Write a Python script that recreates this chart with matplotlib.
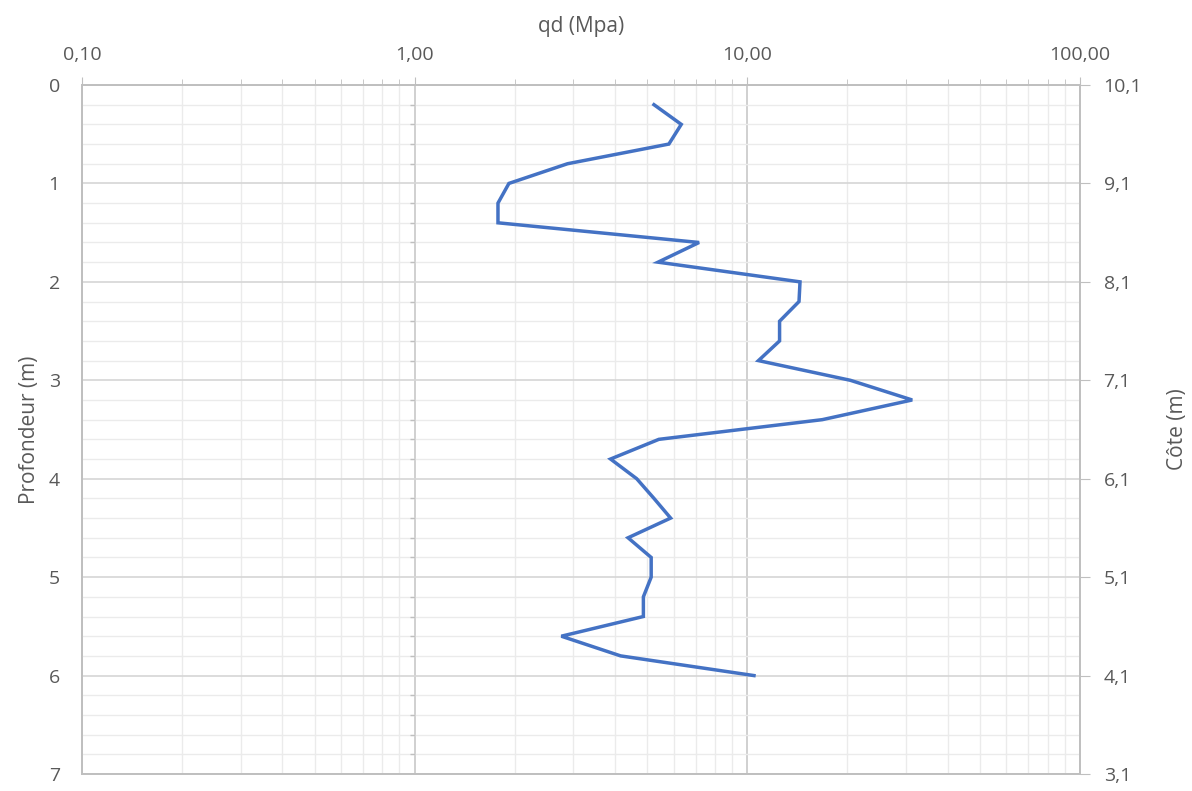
import matplotlib
matplotlib.use("Agg")
import matplotlib.pyplot as plt
from matplotlib.ticker import FixedLocator, FuncFormatter, NullFormatter, NullLocator
import numpy as np

# Data
depth = [0.2, 0.4, 0.6, 0.8, 1.0, 1.2, 1.4, 1.6, 1.8, 2.0,
         2.2, 2.4, 2.6, 2.8, 3.0, 3.2, 3.4, 3.6, 3.8, 4.0,
         4.2, 4.4, 4.6, 4.8, 5.0, 5.2, 5.4, 5.6, 5.8, 6.0]
qd = [5.24, 6.33, 5.81, 2.88, 1.92, 1.78, 1.78, 7.16, 5.39, 14.4,
      14.3, 12.5, 12.5, 10.8, 20.4, 31.3, 16.8, 5.42, 3.88, 4.65,
      5.24, 5.88, 4.38, 5.14, 5.14, 4.87, 4.87, 2.76, 4.16, 10.47]
x_major = [0.1, 1, 10, 100]
x_labels = ["0,10", "1,00", "10,00", "100,00"]
depth_ticks = [0, 1, 2, 3, 4, 5, 6, 7]
cote_ticks = [3.1, 4.1, 5.1, 6.1, 7.1, 8.1, 9.1, 10.1]
cote_top = 10.1

plt.rcParams['font.family'] = ['Open Sans', 'DejaVu Sans']
txt = '#595959'
fs = 14
fig = plt.figure(figsize=(11.92, 7.91), dpi=100)
ax = fig.add_axes([82/1192, 1-774/791, (1080-82)/1192, (774-85)/791])

ax.set_xscale('log')
ax.set_xlim(0.1, 100)
ax.set_ylim(7, 0)

minor_x = [m * d for d in [0.1, 1, 10] for m in range(2, 10)]
ax.xaxis.set_major_locator(FixedLocator(x_major))
ax.xaxis.set_minor_locator(FixedLocator(minor_x))
ax.xaxis.set_major_formatter(FuncFormatter(lambda v, p: x_labels[x_major.index(v)] if v in x_major else ""))
ax.xaxis.set_minor_formatter(NullFormatter())
ax.xaxis.tick_top()
ax.xaxis.set_label_position('top')

minor_y = [i * 0.2 for i in range(36)]
ax.yaxis.set_major_locator(FixedLocator(depth_ticks))
ax.yaxis.set_minor_locator(FixedLocator(minor_y))

ax.grid(True, which='major', axis='x', color='#c8c8c8', lw=1.2)
ax.grid(True, which='minor', axis='x', color='#ebebeb', lw=1.0)
ax.grid(True, which='major', axis='y', color='#d6d6d6', lw=1.2)
ax.grid(True, which='minor', axis='y', color='#ebebeb', lw=1.0)
ax.set_axisbelow(True)

# small ticks on the x=1 line
ax.hlines([v for v in minor_y if v % 1 > 0.01], 0.965, 1.0, color='#bfbfbf', lw=1.0, zorder=1)

ax.plot(qd, depth, color='#4472C4', lw=2.5, zorder=3, solid_joinstyle='miter')

for s in ax.spines.values():
    s.set_color('#bfbfbf')
    s.set_linewidth(1.2)

ax.tick_params(axis='x', which='major', top=True, bottom=False, length=6, color='#bfbfbf',
               labelcolor=txt, labelsize=fs, pad=9)
ax.tick_params(axis='x', which='minor', top=True, bottom=False, length=4, color='#bfbfbf')
ax.tick_params(axis='y', which='both', left=False, right=False, length=0, labelcolor=txt, labelsize=fs, pad=16)
ax.set_xlabel('qd (Mpa)', color=txt, fontsize=15, labelpad=10)
ax.set_ylabel('Profondeur (m)', color=txt, fontsize=15, labelpad=6)

ax2 = ax.twinx()
ax2.set_ylim(cote_top - 7, cote_top)
ax2.yaxis.set_major_locator(FixedLocator(cote_ticks))
ax2.yaxis.set_minor_locator(NullLocator())
ax2.yaxis.set_major_formatter(FuncFormatter(lambda v, p: f"{v:.1f}".replace('.', ',')))
ax2.tick_params(axis='y', which='major', left=False, right=True, length=7, color='#bfbfbf',
                labelcolor=txt, labelsize=fs, pad=10)
for s in ax2.spines.values():
    s.set_color('#bfbfbf')
    s.set_linewidth(1.2)
ax2.set_ylabel('Côte (m)', color=txt, fontsize=15, labelpad=18)

fig.savefig('out.png', dpi=100)
